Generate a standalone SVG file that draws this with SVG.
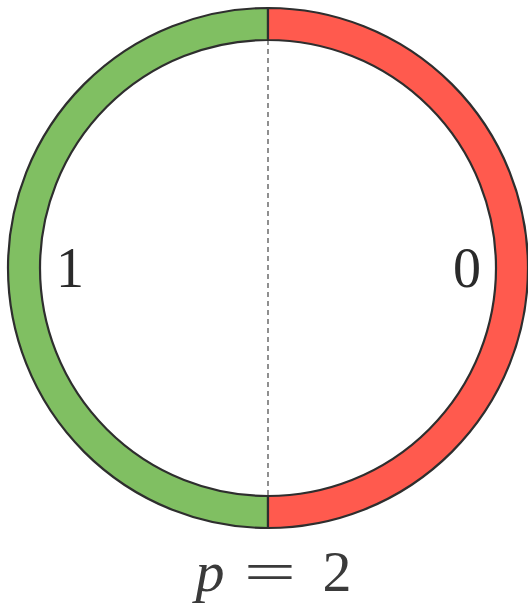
<svg xmlns="http://www.w3.org/2000/svg" width="528" height="611" viewBox="0 0 528 611">
<style>
.seg{stroke:#2e2e2e;stroke-width:2.2;stroke-linejoin:round}
.lbl{font-family:"Liberation Serif",serif;font-size:56px;fill:#2a2a2a}
.math{font-family:"Liberation Serif",serif;font-size:58px;fill:#3a3a3a}
</style>
<rect width="528" height="611" fill="#ffffff"/>
<g id="connectors">
<line x1="268" y1="40" x2="268" y2="496" stroke="#555" stroke-width="1.3" stroke-dasharray="5 4"/>
</g>
<g id="node-1">
<path class="seg" fill="#80bf62" d="M268,8 A260,260 0 0 0 268,528 L268,496 A228,228 0 0 1 268,40 Z"/>
<text class="lbl" x="70" y="287" text-anchor="middle">1</text>
</g>
<g id="node-0">
<path class="seg" fill="#ff5a4e" d="M268,8 A260,260 0 0 1 268,528 L268,496 A228,228 0 0 0 268,40 Z"/>
<text class="lbl" x="467" y="287" text-anchor="middle">0</text>
</g>
<g id="caption">
<text class="math" x="210" y="591" text-anchor="middle" font-style="italic">p</text>
<text x="270" y="591" text-anchor="middle" font-family="Liberation Serif, serif" font-size="58" fill="#3a3a3a" transform="translate(270 0) scale(1.6 1) translate(-270 0)">=</text>
<text class="math" x="337" y="591" text-anchor="middle">2</text>
</g>
</svg>
